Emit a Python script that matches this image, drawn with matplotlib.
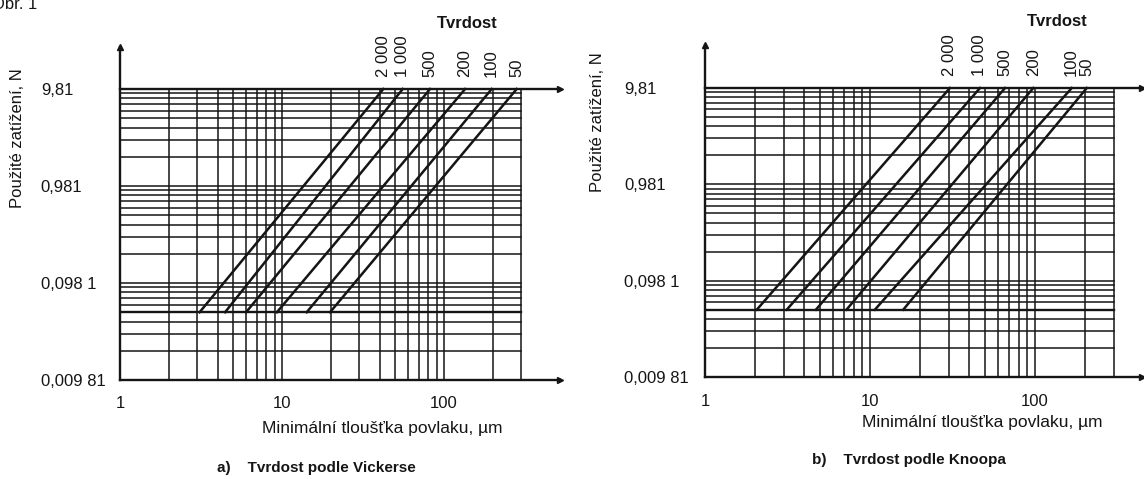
import numpy as np
import matplotlib
matplotlib.use("Agg")
import matplotlib.pyplot as plt

plt.rcParams['font.family'] = ['Liberation Sans', 'DejaVu Sans']

# ============================================================
# Data
# ============================================================

hardness = ["2 000", "1 000", "500", "200", "100", "50"]

load_low = 0.049      # N, lower end of every line
load_high = 9.81      # N, upper end of every line

# Vickers: minimum thickness (um) at low / high load
vickers_low = [3.1, 4.45, 6.0, 9.3, 14.2, 19.8]
vickers_high = [42.2, 55.6, 82.0, 135.0, 197.0, 281.0]

# Knoop: minimum thickness (um) at low / high load
knoop_low = [2.06, 3.13, 4.7, 7.2, 10.7, 15.9]
knoop_high = [30.5, 46.4, 65.8, 97.6, 167.0, 206.0]

y_ticks = [0.00981, 0.0981, 0.981, 9.81]
y_ticklabels = ["0,009 81", "0,098 1", "0,981", "9,81"]
x_ticks = [1, 10, 100]
x_ticklabels = ["1", "10", "100"]

grid_x = [m * 10 ** k for k in range(3) for m in range(1, 10) if m * 10 ** k <= 300]
grid_y = [m * 0.00981 * 10 ** k for k in range(3) for m in range(1, 10)] + [9.81]

# ============================================================
# Figure
# ============================================================

W, H = 1144, 479
fig = plt.figure(figsize=(W / 100, H / 100), dpi=100)
ink = "#151515"


def panel(px_left, px_right, px_top, px_bottom, x_max, y_max,
          low, high, ypad, xpad, lab_x, lab_y, cap, cap_xy, title_xy):
    ax = fig.add_axes([px_left / W, 1 - px_bottom / H,
                       (px_right - px_left) / W, (px_bottom - px_top) / H])
    ax.set_xscale("log")
    ax.set_yscale("log")
    ax.set_xlim(1, x_max)
    ax.set_ylim(0.00981, y_max)
    ax.patch.set_alpha(0)
    for s in ["top", "right"]:
        ax.spines[s].set_visible(False)
    for s in ["left", "bottom"]:
        ax.spines[s].set_color(ink)
        ax.spines[s].set_linewidth(1.7)

    # grid
    for gx in grid_x:
        ax.plot([gx, gx], [0.00981, 9.81], color=ink, lw=1.1)
    for gy in grid_y:
        ax.plot([1, 300], [gy, gy], color=ink, lw=1.1)
    ax.plot([1, x_max], [9.81, 9.81], color=ink, lw=1.7, clip_on=False)

    # arrow heads
    ax.plot([x_max], [9.81], marker=">", color=ink, ms=4, clip_on=False)
    ax.plot([x_max], [0.00981], marker=">", color=ink, ms=4, clip_on=False)
    ax.plot([1], [y_max], marker="^", color=ink, ms=4, clip_on=False)

    # hardness lines
    for name, t0, t1 in zip(hardness, low, high):
        ax.plot([t0, t1], [load_low, load_high], color=ink, lw=1.8)
        ax.annotate(name, (t1, load_high), xytext=(0, 9),
                    textcoords="offset points", rotation=90,
                    ha="center", va="bottom", fontsize=12, color=ink)
    # line where the hardness lines start
    ax.plot([1, 300], [load_low, load_low], color=ink, lw=1.7)

    ax.set_xticks(x_ticks)
    ax.set_xticklabels(x_ticklabels)
    ax.set_yticks(y_ticks)
    ax.set_yticklabels(y_ticklabels)
    ax.minorticks_off()
    ax.tick_params(axis="both", length=0, labelsize=12, colors=ink)
    ax.tick_params(axis="y", pad=ypad)
    ax.tick_params(axis="x", pad=xpad)
    for t in ax.get_yticklabels():
        t.set_horizontalalignment("left")

    fig.text(lab_y[0] / W, 1 - lab_y[1] / H, "Použité zatížení, N",
             rotation=90, ha="center", va="center", fontsize=12, color=ink)
    fig.text(lab_x[0] / W, 1 - lab_x[1] / H, "Minimální tloušťka povlaku, µm",
             ha="center", va="center", fontsize=12.5, color=ink)
    fig.text(cap_xy[0] / W, 1 - cap_xy[1] / H, cap,
             ha="center", va="center", fontsize=11, fontweight="bold", color=ink)
    fig.text(title_xy[0] / W, 1 - title_xy[1] / H, "Tvrdost",
             ha="center", va="center", fontsize=12, fontweight="bold", color=ink)
    return ax


panel(120, 560, 47, 380, 10 ** (440 / 162), 9.81 * 10 ** 0.433,
      vickers_low, vickers_high, 57, 11.5,
      (382, 428), (18, 138), "a)    Tvrdost podle Vickerse", (316, 468), (467, 23))

panel(705, 1142, 45, 377, 10 ** (437 / 165), 9.81 * 10 ** 0.4465,
      knoop_low, knoop_high, 58, 12,
      (982, 422), (597, 122), "b)    Tvrdost podle Knoopa", (909, 460), (1057, 22))

fig.text(-8 / W, 1 - 9 / H, "Obr. 1", ha="left", va="baseline",
         fontsize=12, color=ink)

fig.savefig("out.png", dpi=100)
